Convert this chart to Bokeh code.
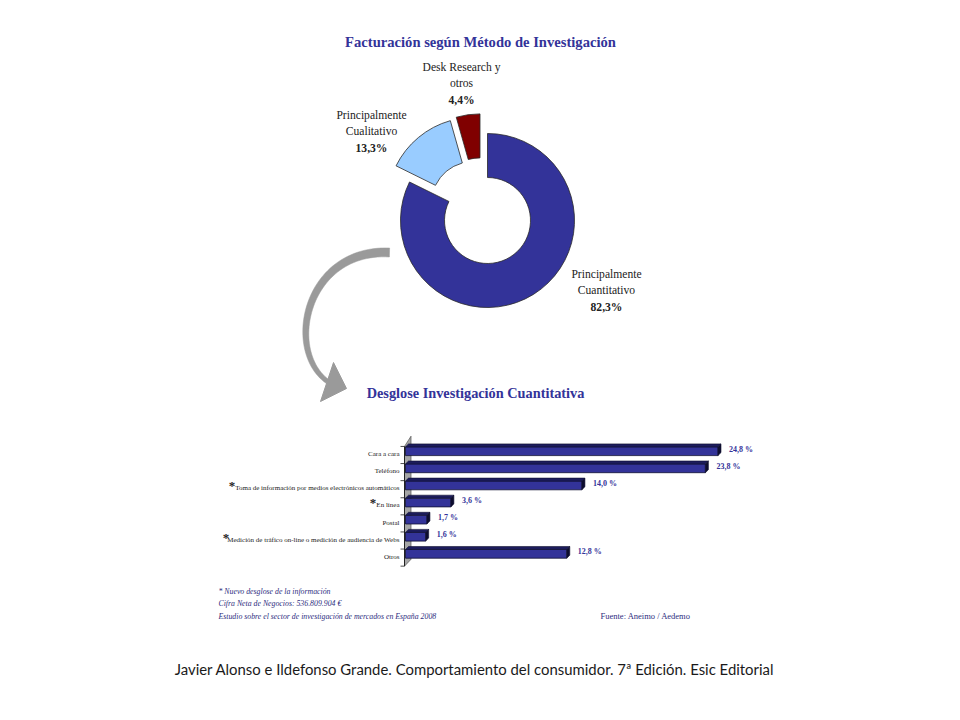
import numpy as np
from bokeh.plotting import figure
from bokeh.models import Range1d
from bokeh.core.properties import value
from bokeh.embed import file_html
from bokeh.resources import INLINE

# ---------------- data ----------------
pie_names = ["Principalmente\nCuantitativo", "Principalmente\nCualitativo", "Desk Research y\notros"]
pie_values = [82.3, 13.3, 4.4]
pie_pct_text = ["82,3%", "13,3%", "4,4%"]

bar_categories = [
    "Cara a cara",
    "Teléfono",
    "Toma de información por medios electrónicos automáticos",
    "En línea",
    "Postal",
    "Medición de tráfico on-line o medición de audiencia de Webs",
    "Otros",
]
bar_values = [24.8, 23.8, 14.0, 3.6, 1.7, 1.6, 12.8]
bar_value_text = ["24,8 %", "23,8 %", "14,0 %", "3,6 %", "1,7 %", "1,6 %", "12,8 %"]
bar_new_breakdown = [False, False, True, True, False, True, False]

title_pie = "Facturación según Método de Investigación"
title_bar = "Desglose Investigación Cuantitativa"
footnotes = [
    "* Nuevo desglose de la información",
    "Cifra Neta de Negocios: 536.809.904 €",
    "Estudio sobre el sector de investigación de mercados en España 2008",
]
source_text = "Fuente: Aneimo / Aedemo"
citation = "Javier Alonso e Ildefonso Grande. Comportamiento del consumidor. 7ª Edición. Esic Editorial"

# ---------------- layout / style ----------------
W, H = 944, 704
OX, OY = 0, 0          # page position of the figure's top-left corner
NAVY = "#333399"
SERIF = value("Liberation Serif")


def Y(img_y):
    return 720 - img_y


p = figure(width=W, height=H, x_range=Range1d(OX, OX + W), y_range=Range1d(720 - OY - H, 720 - OY),
           output_backend="svg", toolbar_location=None,
           x_axis_location=None, y_axis_location=None, min_border=0,
           outline_line_color=None, background_fill_color="white",
           border_fill_color="white")
p.xgrid.visible = False
p.ygrid.visible = False

# ---- titles ----
p.text(x=[480], y=[Y(41)], text=[title_pie], text_font=SERIF, text_font_style="bold",
       text_font_size="14.6px", text_color=NAVY, text_align="center", text_baseline="middle")
p.text(x=[475], y=[Y(392)], text=[title_bar], text_font=SERIF, text_font_style="bold",
       text_font_size="14.3px", text_color=NAVY, text_align="center", text_baseline="middle")

# ---- donut ----
cx, cy = 487, Y(220)
r_in, r_out = 43, 87
explode = [0, 21, 21]
explode_tilt_deg = [0, 0, 13]   # small extra tilt of the pulled-out direction
pie_colors = ["#333399", "#99ccff", "#800000"]
vals = np.array(pie_values)
cum = np.concatenate([[0], np.cumsum(vals)]) / vals.sum()
end_ang = np.pi / 2 - 2 * np.pi * cum[:-1]
start_ang = np.pi / 2 - 2 * np.pi * cum[1:]
mid = (start_ang + end_ang) / 2 + np.radians(explode_tilt_deg)
xs = cx + np.array(explode) * np.cos(mid)
ys = cy + np.array(explode) * np.sin(mid)
p.annular_wedge(x=xs, y=ys, inner_radius=r_in, outer_radius=r_out,
                start_angle=start_ang, end_angle=end_ang, direction="anticlock",
                fill_color=pie_colors, line_color="#2a2a2a", line_width=0.8)

# donut labels (anchor = centre of first line, image coords)
label_anchor = [(606, 274), (371, 115), (461, 67)]
line_gap = 16.4
for name, pct, (ax, ay) in zip(pie_names, pie_pct_text, label_anchor):
    lines = name.split("\n")
    p.text(x=[ax] * len(lines), y=[Y(ay + i * line_gap) for i in range(len(lines))],
           text=lines, text_font=SERIF, text_font_size="11.6px", text_color="#222222",
           text_align="center", text_baseline="middle")
    p.text(x=[ax], y=[Y(ay + len(lines) * line_gap)], text=[pct], text_font=SERIF,
           text_font_style="bold", text_font_size="11.6px", text_color="#222222",
           text_align="center", text_baseline="middle")

# ---- curved arrow (decoration) ----
P = np.array([[389, 252], [305, 248], [284, 350], [327, 381]], dtype=float)
t = np.linspace(0, 1, 60)[:, None]
curve = ((1 - t) ** 3) * P[0] + 3 * ((1 - t) ** 2) * t * P[1] + 3 * (1 - t) * t ** 2 * P[2] + t ** 3 * P[3]
d = np.gradient(curve, axis=0)
nrm = np.stack([-d[:, 1], d[:, 0]], axis=1)
nrm /= np.linalg.norm(nrm, axis=1)[:, None]
wid = (9 - 4.5 * t[:, 0]) / 2
left = curve + nrm * wid[:, None]
right = curve - nrm * wid[:, None]
poly = np.concatenate([left, right[::-1]])
p.patch(x=poly[:, 0], y=[Y(v) for v in poly[:, 1]], fill_color="#9a9a9a", line_color="#9a9a9a", line_width=0.5)
head = np.array([[333, 362], [346, 388], [320, 401]], dtype=float)
p.patch(x=head[:, 0], y=[Y(v) for v in head[:, 1]], fill_color="#9a9a9a", line_color="#9a9a9a")

# ---- bar chart (own scales mapped into the page) ----
x0_px, px_per_unit = 405.0, 12.6
slot0_px, slot_px = 454.5, 17.1
p.extra_x_ranges = {"val": Range1d((OX - x0_px) / px_per_unit, (OX + W - x0_px) / px_per_unit)}
p.extra_y_ranges = {"cat": Range1d((OY + H - slot0_px) / slot_px, (OY - slot0_px) / slot_px)}

n = len(bar_values)
idx = np.arange(n)
BAR_SHIFT, BAR_H = -0.22, 0.51
DX, DY = 0.24, 0.175
bv = np.array(bar_values)
yc = idx + BAR_SHIFT
ytop = yc - BAR_H / 2
ybot = yc + BAR_H / 2

# wall & axis
p.patch(x=[404, 410.5, 410.5, 404], y=[-0.5, -1.1, 6.1, 6.5], y_range_name="cat",
        fill_color="#a6a6a6", line_color="#555555", line_width=0.7)
p.segment(x0=[404], x1=[404], y0=[-0.5], y1=[6.5], y_range_name="cat", line_color="#222222", line_width=1)
bounds = np.arange(n + 1) - 0.5
p.segment(x0=[400] * (n + 1), x1=[404] * (n + 1), y0=bounds, y1=bounds, y_range_name="cat",
          line_color="#222222", line_width=0.8)

# bars: front, top and side faces
p.hbar(y=yc, left=0, right=bv, height=BAR_H, x_range_name="val", y_range_name="cat",
       fill_color=NAVY, line_color="#111133", line_width=0.8)
p.patches(xs=[[0, DX, v + DX, v] for v in bv], ys=[[a, a - DY, a - DY, a] for a in ytop],
          x_range_name="val", y_range_name="cat", fill_color="#1c1c5c", line_color="#111133", line_width=0.6)
p.patches(xs=[[v, v + DX, v + DX, v] for v in bv], ys=[[a, a - DY, b - DY, b] for a, b in zip(ytop, ybot)],
          x_range_name="val", y_range_name="cat", fill_color="#0d0d2e", line_color="#111133", line_width=0.6)

# value labels
p.text(x=bv + DX, y=yc - 0.12, text=bar_value_text, x_offset=8, x_range_name="val", y_range_name="cat",
       text_font=SERIF, text_font_style="bold", text_font_size="8px", text_color=NAVY,
       text_align="left", text_baseline="middle")

# category labels
p.text(x=[399] * n, y=idx - 0.05, text=bar_categories, y_range_name="cat",
       text_font=SERIF, text_font_size="7px", text_color="#222222",
       text_align="right", text_baseline="middle")
star_x = [0, 0, 231.5, 372.5, 0, 225.5, 0]
sx = [star_x[i] for i in range(n) if bar_new_breakdown[i]]
sy = [idx[i] - 0.2 for i in range(n) if bar_new_breakdown[i]]
p.text(x=sx, y=sy, text=["*"] * len(sx), y_range_name="cat", text_font=SERIF,
       text_font_style="bold", text_font_size="13px", text_color="#222222",
       text_align="center", text_baseline="middle")

# ---- footnotes ----
p.text(x=[218] * 3, y=[Y(591), Y(603.3), Y(615.5)], text=footnotes, text_font=SERIF,
       text_font_style="italic", text_font_size="7.8px", text_color="#2e2e80",
       text_align="left", text_baseline="middle")
p.text(x=[600], y=[Y(615.5)], text=[source_text], text_font=SERIF, text_font_size="8.5px",
       text_color="#2e2e80", text_align="left", text_baseline="middle")

# ---- citation ----
p.text(x=[474], y=[Y(668)], text=[citation], text_font=value("Lato"), text_font_size="14.9px",
       text_color="#1a1a1a", text_align="center", text_baseline="middle")

open("out.html", "w").write(file_html(p, INLINE))
